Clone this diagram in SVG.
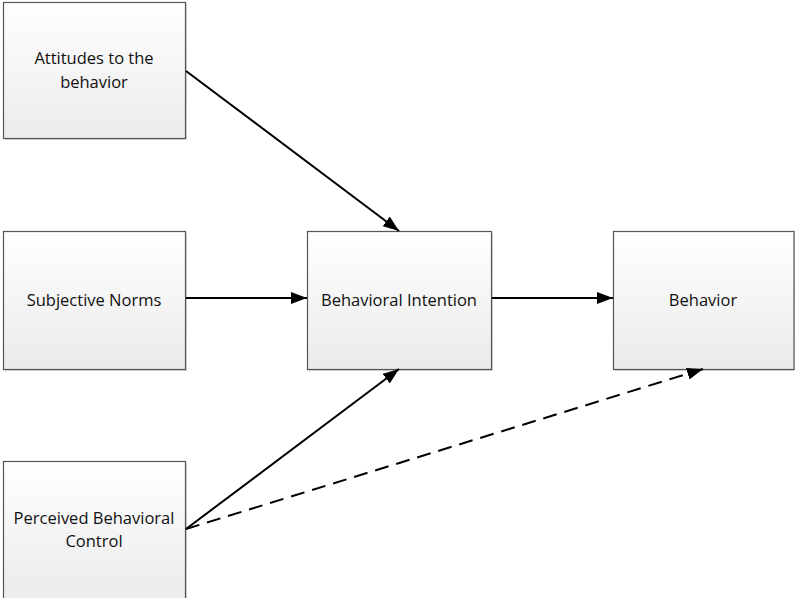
<svg xmlns="http://www.w3.org/2000/svg" width="795" height="598" viewBox="0 0 795 598">
<defs>
<linearGradient id="g" x1="0" y1="0" x2="0" y2="1">
<stop offset="0" stop-color="#ffffff"/>
<stop offset="1" stop-color="#ebebeb"/>
</linearGradient>
<marker id="a" viewBox="0 0 16 12" refX="16" refY="6" markerWidth="16" markerHeight="12" markerUnits="userSpaceOnUse" orient="auto">
<path d="M0,0 L16,6 L0,12 Z" fill="#000"/>
</marker>
</defs>
<style>
.box{fill:url(#g);stroke:#555;stroke-width:1.2}
.sh{fill:#d6d6d6}
.t{font-family:"Open Sans","Liberation Sans",sans-serif;font-size:16.5px;fill:#111;text-anchor:middle}
.c{stroke:#000;stroke-width:2;fill:none;marker-end:url(#a)}
.d{stroke-dasharray:14,8}
</style>
<g id="attitudes">
<rect class="sh" x="5" y="4" width="182" height="136"/>
<rect class="box" x="3.5" y="2.5" width="182" height="136"/>
<text class="t" x="94" y="64">Attitudes to the</text>
<text class="t" x="94" y="88">behavior</text>
</g>
<g id="norms">
<rect class="sh" x="5" y="233" width="182" height="138"/>
<rect class="box" x="3.5" y="231.5" width="182" height="138"/>
<text class="t" x="94" y="306">Subjective Norms</text>
</g>
<g id="pbc">
<rect class="sh" x="5" y="463" width="182" height="140"/>
<rect class="box" x="3.5" y="461.5" width="182" height="140"/>
<text class="t" x="94" y="524">Perceived Behavioral</text>
<text class="t" x="94" y="547">Control</text>
</g>
<g id="intention">
<rect class="sh" x="309" y="233" width="184" height="138"/>
<rect class="box" x="307.5" y="231.5" width="184" height="138"/>
<text class="t" x="399" y="306">Behavioral Intention</text>
</g>
<g id="behavior">
<rect class="sh" x="615" y="233" width="182" height="138"/>
<rect class="box" x="613.5" y="231.5" width="180.5" height="138"/>
<text class="t" x="703" y="306">Behavior</text>
</g>
<g id="connectors">
<line class="c" x1="186" y1="71" x2="399" y2="231"/>
<line class="c" x1="186" y1="298" x2="307" y2="298"/>
<line class="c" x1="492" y1="298" x2="613" y2="298"/>
<line class="c" x1="186" y1="529" x2="399" y2="369"/>
<line class="c d" x1="186" y1="529" x2="703" y2="369"/>
</g>
</svg>
